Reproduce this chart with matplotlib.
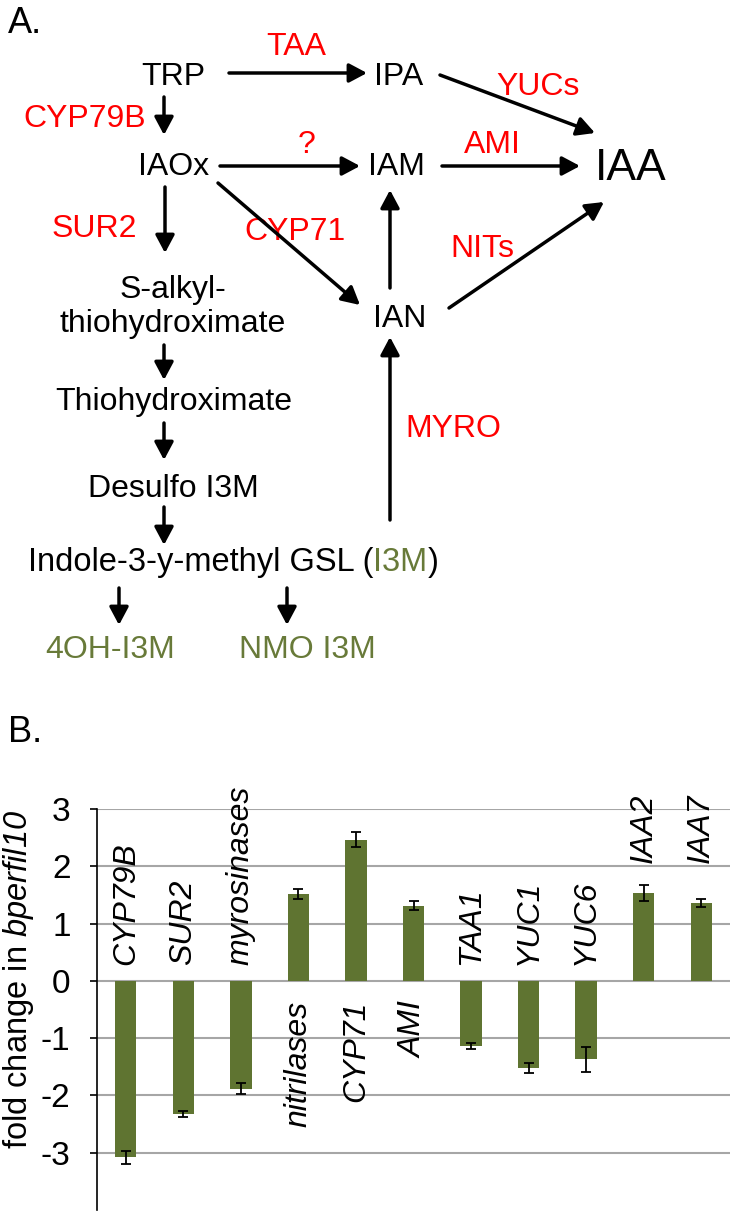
import numpy as np
import matplotlib.pyplot as plt

plt.rcParams['font.family'] = ['Liberation Sans', 'DejaVu Sans']
plt.rcParams['axes.unicode_minus'] = False
plt.rcParams['mathtext.fontset'] = 'custom'
plt.rcParams['mathtext.rm'] = 'Liberation Sans:italic'
plt.rcParams['mathtext.it'] = 'Liberation Sans:italic'

# ---- data for panel B ----
genes = ['CYP79B', 'SUR2', 'myrosinases', 'nitrilases', 'CYP71', 'AMI',
         'TAA1', 'YUC1', 'YUC6', 'IAA2', 'IAA7']
fold = [-3.08, -2.32, -1.88, 1.52, 2.46, 1.31, -1.14, -1.52, -1.37, 1.54, 1.36]
err = [0.11, 0.05, 0.10, 0.09, 0.13, 0.08, 0.05, 0.08, 0.22, 0.14, 0.075]
yticks = [-3, -2, -1, 0, 1, 2, 3]

# ---- pathway text for panel A ----
black_nodes = ['TRP', 'IPA', 'IAOx', 'IAM', 'IAA', 'IAN', 'S-alkyl-',
               'thiohydroximate', 'Thiohydroximate', 'Desulfo I3M']
enzymes = ['TAA', 'YUCs', 'CYP79B', '?', 'AMI', 'SUR2', 'CYP71', 'NITs', 'MYRO']
products = ['4OH-I3M', 'NMO I3M']

RED = '#FF0000'
OLIVE = '#687A39'
BAR = '#5F7431'

fig = plt.figure(figsize=(7.33, 12.16), dpi=100)

# panel A drawn in pixel coordinates
ax0 = fig.add_axes([0, 0, 1, 1])
ax0.set_xlim(0, 733)
ax0.set_ylim(1216, 0)
ax0.axis('off')

ax0.text(8, 33, 'A.', fontsize=26, ha='left', va='baseline')
ax0.text(8, 742, 'B.', fontsize=26, ha='left', va='baseline')

node_xy = [(173, 85), (399, 85), (174, 175), (396, 175), (631, 180), (400, 327),
           (173, 298), (173, 332), (174, 410), (173, 497)]
for name, (x, y) in zip(black_nodes, node_xy):
    fs = 32 if name == 'IAA' else 23
    ax0.text(x, y, name, fontsize=fs, ha='center', va='baseline')

enz_xy = [(296, 55), (538, 95), (85, 127), (307, 153), (492, 153),
          (94, 237), (295, 240), (482, 257), (453, 437)]
for name, (x, y) in zip(enzymes, enz_xy):
    ax0.text(x, y, name, fontsize=23, ha='center', va='baseline', color=RED)

for name, x in zip(products, [110, 307]):
    ax0.text(x, 658, name, fontsize=23, ha='center', va='baseline', color=OLIVE)

# Indole line with the green I3M
renderer = fig.canvas.get_renderer()
x = 28
for part, col in [('Indole-3-y-methyl GSL (', 'black'), ('I3M', OLIVE), (')', 'black')]:
    t = ax0.text(x, 571, part, fontsize=23.5, ha='left', va='baseline', color=col)
    x += t.get_window_extent(renderer).width

arrows = [((229, 73), (367, 73)), ((440, 75), (595, 133)), ((164, 97), (164, 135)),
          ((220, 166), (360, 166)), ((442, 166), (580, 166)), ((165, 187), (165, 253)),
          ((218, 183), (360, 305)), ((390, 288), (390, 190)), ((449, 308), (604, 202)),
          ((164, 345), (164, 380)), ((164, 423), (164, 460)), ((164, 507), (164, 545)),
          ((390, 520), (390, 337)), ((119, 588), (119, 625)), ((287, 588), (287, 625))]
for a, b in arrows:
    ax0.annotate('', xy=b, xytext=a,
                 arrowprops=dict(arrowstyle='-|>,head_length=0.6,head_width=0.32',
                                 mutation_scale=18, lw=2.5, color='black',
                                 shrinkA=0, shrinkB=0))

# panel B bar chart
ax = fig.add_axes([97 / 733, 1 - 1210 / 1216, (730 - 97) / 733, (1210 - 809) / 1216])
xpos = np.arange(len(genes))
ax.bar(xpos, fold, width=0.37, color=BAR, zorder=2)
ax.errorbar(xpos, fold, yerr=err, fmt='none', ecolor='black', elinewidth=1.3,
            capsize=3.5, capthick=1.3, zorder=3)
ax.set_xlim(-0.5, len(genes) - 0.5)
ax.set_ylim(-4, 3)
ax.set_yticks(yticks)
ax.set_yticklabels([str(v) for v in yticks], fontsize=24)
ax.yaxis.grid(True, color='#A6A6A6', lw=1.5, zorder=0)
ax.set_xticks([])
for s in ['top', 'right', 'bottom']:
    ax.spines[s].set_visible(False)
ax.spines['left'].set_linewidth(1.2)
ax.tick_params(axis='y', length=5, width=1.2, pad=14)

for i, (g, v) in enumerate(zip(genes, fold)):
    if v < 0:
        ax.text(i, 0.28, g, rotation=90, fontsize=23, style='italic',
                ha='center', va='bottom')
    elif i >= len(genes) - 2:
        ax.text(i, 2.05, g, rotation=90, fontsize=23, style='italic',
                ha='center', va='bottom')
    else:
        ax.text(i, -0.35, g, rotation=90, fontsize=23, style='italic',
                ha='center', va='top')

fig.text(19 / 733, 1 - 979 / 1216, r'fold change in $bperfil10$',
         rotation=90, fontsize=23.5, ha='center', va='center')

fig.savefig('out.png', dpi=100)
